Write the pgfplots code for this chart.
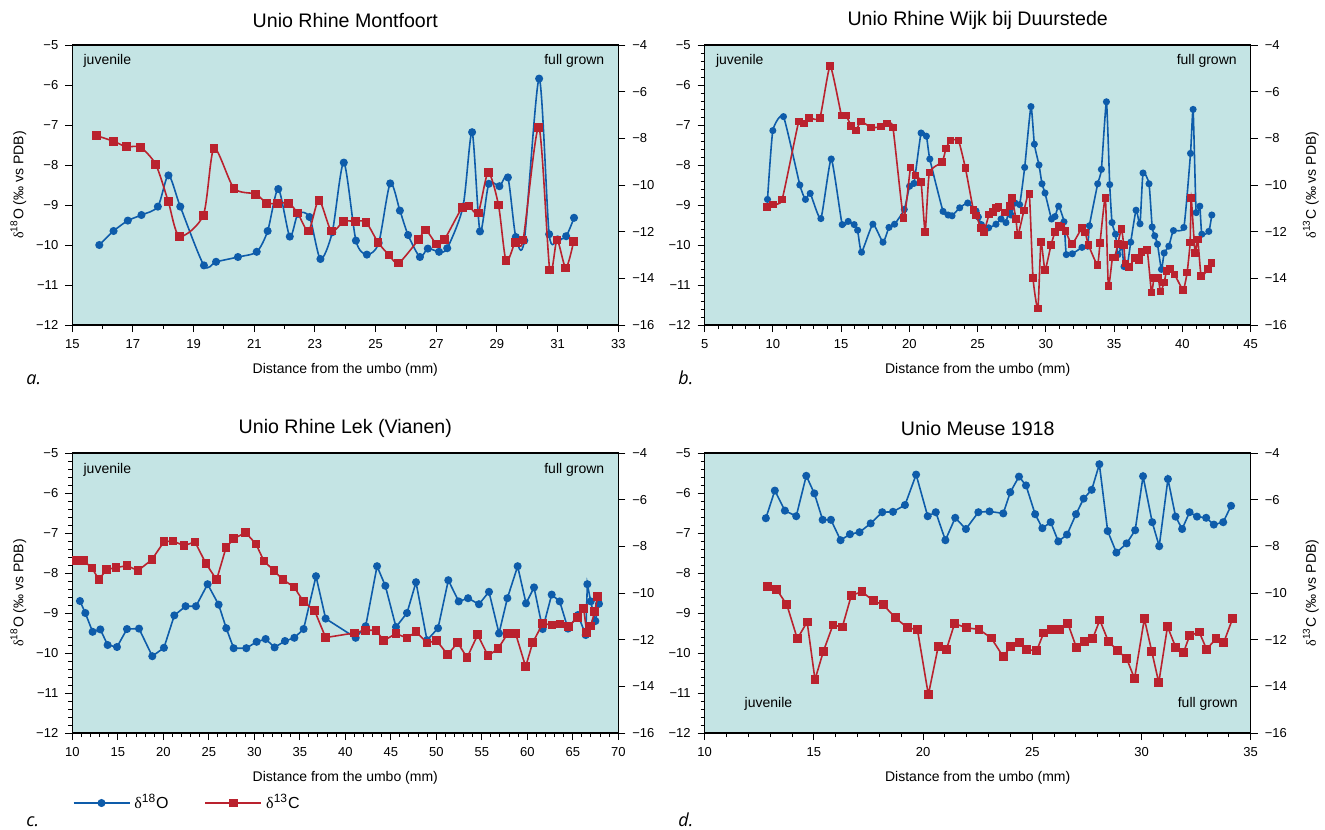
\documentclass[border=0pt]{standalone}
\usepackage{fontspec}
\setmainfont{Liberation Sans}
\newfontfamily\serifgreek{Liberation Serif}
\newfontfamily\panelfont{Open Sans}
\usepackage{pgfplots}
\pgfplotsset{compat=1.18}
\definecolor{bgc}{RGB}{196,228,228}
\definecolor{bluec}{RGB}{14,92,170}
\definecolor{redc}{RGB}{186,34,46}
\newcommand{\dO}{{\serifgreek δ}\textsuperscript{18}O}
\newcommand{\dC}{{\serifgreek δ}\textsuperscript{13}C}
\tikzset{txt/.style={font=\fontsize{7}{8}\selectfont, inner sep=0pt}}
\pgfplotsset{
  base/.style={scale only axis, width=273pt, height=140pt,
    tick align=outside, major tick length=3.5pt, minor tick length=2pt,
    tick style={black, line width=0.5pt},
    axis line style={line width=0.6pt},
    tick label style={font=\fontsize{6.5}{7}\selectfont},
    label style={font=\fontsize{7}{8}\selectfont},
    /pgf/number format/assume math mode=true,
  },
  lefty/.style={base, axis background/.style={fill=bgc},
    xtick pos=lower, ytick pos=left, ymin=-12, ymax=-5, ytick={-12,...,-5},
    yticklabels={−12,−11,−10,−9,−8,−7,−6,−5},
    xlabel={Distance from the umbo (mm)},
    xlabel style={at={(axis description cs:0.5,-0.16)}, anchor=center},
    ylabel style={at={(axis description cs:-0.099,0.5)}, anchor=center},
    title style={font=\fontsize{9.8}{11}\selectfont, at={(axis description cs:0.5,1.046)}, anchor=center},
  },
  righty/.style={base, axis x line=none, axis y line*=right, ytick pos=right,
    ymin=-16, ymax=-4, ytick={-16,-14,...,-4},
    yticklabels={−16,−14,−12,−10,−8,−6,−4},
    ylabel style={at={(axis description cs:1.11,0.5)}, anchor=center},
  },
  bl/.style={color=bluec, line width=0.8pt, mark=*, mark size=1.6pt, mark options={solid, fill=bluec}},
  rd/.style={color=redc, line width=0.8pt, mark=square*, mark size=1.8pt, mark options={solid, fill=redc}},
}
\begin{document}
\begin{tikzpicture}
\path[use as bounding box] (0,0) rectangle (662.5pt,-414.5pt);
% ---------------- panel a
\begin{axis}[lefty, at={(36.15pt,-162.5pt)}, anchor=south west,
  xmin=15, xmax=33, xtick={15,17,...,33}, minor xtick={16,18,...,32},
  title={Unio Rhine Montfoort}, ylabel={\dO\ (‰ vs PDB)}]
\addplot[bl, smooth, tension=0.45] coordinates {
(15.89,-10.00) (16.36,-9.65) (16.83,-9.39) (17.28,-9.25) (17.82,-9.04) (18.17,-8.26)
(18.56,-9.04) (19.34,-10.51) (19.74,-10.42) (20.46,-10.30) (21.08,-10.17) (21.44,-9.65)
(21.79,-8.60) (22.17,-9.79) (22.44,-9.22) (22.82,-9.30) (23.18,-10.35) (23.57,-9.68)
(23.95,-7.94) (24.35,-9.89) (24.71,-10.24) (25.10,-9.95) (25.48,-8.46) (25.80,-9.14)
(26.07,-9.75) (26.46,-10.30) (26.72,-10.09) (27.09,-10.17) (27.36,-10.08) (27.88,-9.04)
(28.18,-7.18) (28.44,-9.66) (28.73,-8.47) (29.08,-8.53) (29.36,-8.31) (29.62,-9.80)
(29.90,-9.89) (30.39,-5.84) (30.72,-9.73) (31.00,-9.86) (31.28,-9.78) (31.54,-9.32)};
\node[txt, anchor=base west] at (rel axis cs:0.02,0.932) {juvenile};
\node[txt, anchor=base east] at (rel axis cs:0.975,0.932) {full grown};
\end{axis}
\begin{axis}[righty, at={(36.15pt,-162.5pt)}, anchor=south west, xmin=15, xmax=33]
\addplot[rd, smooth, tension=0.45] coordinates {
(15.81,-7.89) (16.37,-8.13) (16.78,-8.36) (17.24,-8.38) (17.75,-9.12) (18.16,-10.69)
(18.53,-12.20) (19.32,-11.29) (19.67,-8.44) (20.33,-10.14) (21.05,-10.39) (21.41,-10.78)
(21.77,-10.78) (22.13,-10.78) (22.43,-11.20) (22.79,-11.97) (23.13,-10.65) (23.54,-11.97)
(23.95,-11.56) (24.33,-11.56) (24.68,-11.59) (25.08,-12.46) (25.44,-13.00) (25.76,-13.34)
(26.42,-12.33) (26.65,-11.93) (27.01,-12.53) (27.27,-12.33) (27.86,-10.95) (28.08,-10.90)
(28.38,-11.20) (28.71,-9.47) (29.05,-10.86) (29.30,-13.25) (29.60,-12.46) (29.86,-12.36)
(30.38,-7.53) (30.74,-13.64) (30.98,-12.36) (31.27,-13.56) (31.53,-12.41)};
\end{axis}
% ---------------- panel b
\begin{axis}[lefty, at={(352.35pt,-162.5pt)}, anchor=south west,
  xmin=5, xmax=45, xtick={5,10,...,45}, minor tick num=4,
  title={Unio Rhine Wijk bij Duurstede}]
\addplot[bl, mark size=1.35pt, smooth, tension=0.3] coordinates {
(9.60,-8.86) (9.99,-7.14) (10.77,-6.79) (11.97,-8.50) (12.38,-8.86) (12.73,-8.71)
(13.51,-9.34) (14.27,-7.85) (15.07,-9.49) (15.51,-9.41) (15.95,-9.49) (16.20,-9.63)
(16.49,-10.18) (17.32,-9.48) (18.06,-9.93) (18.50,-9.56) (18.91,-9.48) (19.62,-9.11)
(20.01,-8.53) (20.33,-8.46) (20.85,-7.20) (21.24,-7.28) (21.49,-7.85) (22.46,-9.16)
(22.83,-9.25) (23.12,-9.27) (23.68,-9.07) (24.27,-8.95) (24.88,-9.15) (25.05,-9.30)
(25.27,-9.49) (25.80,-9.57) (26.34,-9.48) (26.71,-9.35) (27.07,-9.44) (27.27,-9.14)
(27.44,-9.25) (27.73,-8.95) (28.07,-8.99) (28.44,-8.06) (28.90,-6.54) (29.15,-7.48)
(29.49,-8.00) (29.71,-8.47) (29.93,-8.70) (30.41,-9.35) (30.66,-9.29) (30.93,-9.03)
(31.32,-9.42) (31.49,-10.24) (31.93,-10.22) (32.64,-10.06) (33.06,-10.03) (33.18,-9.52)
(33.79,-8.47) (34.06,-8.11) (34.43,-6.42) (34.67,-8.49) (34.84,-9.44) (35.09,-9.73)
(35.28,-10.24) (35.55,-10.04) (35.72,-10.54) (35.94,-10.56) (36.21,-9.93) (36.60,-9.13)
(36.89,-9.47) (37.11,-8.20) (37.55,-8.47) (37.78,-9.55) (37.97,-9.77) (38.17,-9.98)
(38.46,-10.61) (38.66,-10.20) (39.00,-10.03) (39.34,-9.64) (40.10,-9.56) (40.59,-7.71)
(40.78,-6.61) (41.00,-9.19) (41.27,-9.03) (41.42,-9.73) (41.93,-9.66) (42.15,-9.25)};
\node[txt, anchor=base west] at (rel axis cs:0.02,0.932) {juvenile};
\node[txt, anchor=base east] at (rel axis cs:0.975,0.932) {full grown};
\end{axis}
\begin{axis}[righty, at={(352.35pt,-162.5pt)}, anchor=south west, xmin=5, xmax=45,
  ylabel={\dC\ (‰ vs PDB)}]
\addplot[rd, mark size=1.5pt, smooth, tension=0.3] coordinates {
(9.57,-10.95) (9.99,-10.83) (10.67,-10.62) (11.89,-7.27) (12.29,-7.36) (12.65,-7.12)
(13.44,-7.12) (14.19,-4.90) (15.02,-7.02) (15.34,-7.02) (15.73,-7.46) (16.08,-7.67)
(16.44,-7.27) (17.20,-7.54) (17.91,-7.50) (18.37,-7.36) (18.79,-7.54) (19.57,-11.42)
(20.08,-9.25) (20.45,-9.59) (20.85,-9.88) (21.15,-12.01) (21.46,-9.47) (22.39,-9.02)
(22.68,-8.43) (23.00,-8.10) (23.59,-8.10) (24.10,-9.28) (24.68,-11.07) (24.88,-11.30)
(25.24,-11.84) (25.46,-12.01) (25.83,-11.27) (26.12,-11.16) (26.34,-10.99) (26.51,-10.95)
(26.98,-11.17) (27.34,-10.90) (27.51,-10.56) (27.80,-11.46) (27.95,-12.14) (28.39,-11.09)
(28.78,-10.39) (29.05,-13.98) (29.41,-15.30) (29.63,-12.44) (29.93,-13.64) (30.37,-12.57)
(30.66,-12.02) (30.92,-11.75) (31.12,-11.80) (31.42,-11.96) (31.91,-12.53) (32.64,-11.84)
(32.88,-12.04) (33.11,-12.56) (33.77,-13.42) (33.96,-12.48) (34.35,-10.56) (34.57,-14.32)
(34.87,-13.11) (35.04,-13.10) (35.26,-12.54) (35.53,-11.89) (35.70,-12.58) (35.82,-13.37)
(36.09,-13.51) (36.53,-13.12) (36.82,-13.22) (36.99,-12.88) (37.41,-12.78) (37.73,-14.60)
(37.92,-13.98) (38.22,-13.98) (38.39,-14.56) (38.66,-14.18) (38.83,-13.69) (39.07,-13.59)
(39.43,-13.84) (40.05,-14.49) (40.34,-13.75) (40.56,-12.47) (40.64,-10.56) (40.92,-12.91)
(41.12,-12.33) (41.37,-13.89) (41.88,-13.59) (42.13,-13.34)};
\end{axis}
% ---------------- panel c
\begin{axis}[lefty, at={(36.15pt,-366.5pt)}, anchor=south west,
  xmin=10, xmax=70, xtick={10,15,...,70}, minor tick num=4,
  title={Unio Rhine Lek (Vianen)}, ylabel={\dO\ (‰ vs PDB)}]
\addplot[bl] coordinates {
(10.84,-8.70) (11.43,-9.00) (12.23,-9.47) (13.08,-9.41) (13.88,-9.80) (14.91,-9.85)
(16.01,-9.40) (17.33,-9.39) (18.79,-10.08) (20.07,-9.87) (21.21,-9.06) (22.45,-8.83)
(23.59,-8.83) (24.87,-8.28) (26.08,-8.79) (26.92,-9.38) (27.73,-9.88) (29.12,-9.88)
(30.26,-9.72) (31.25,-9.65) (32.23,-9.86) (33.37,-9.70) (34.40,-9.62) (35.42,-9.40)
(36.78,-8.08) (37.84,-9.14) (41.14,-9.62) (42.24,-9.33) (43.49,-7.83) (44.40,-8.32)
(45.57,-9.35) (46.78,-9.00) (47.77,-8.23) (48.98,-9.68) (50.19,-9.38) (51.32,-8.18)
(52.46,-8.71) (53.49,-8.63) (54.69,-8.78) (55.79,-8.47) (56.89,-9.51) (57.81,-8.63)
(58.94,-7.83) (59.86,-8.76) (60.74,-8.36) (61.69,-9.40) (62.68,-8.54) (63.56,-8.71)
(64.47,-9.39) (65.57,-9.05) (66.42,-9.55) (66.60,-8.28) (66.97,-8.71) (67.48,-9.20)
(67.88,-8.77)};
\node[txt, anchor=base west] at (rel axis cs:0.02,0.928) {juvenile};
\node[txt, anchor=base east] at (rel axis cs:0.975,0.928) {full grown};
\end{axis}
\begin{axis}[righty, at={(36.15pt,-366.5pt)}, anchor=south west, xmin=10, xmax=70,
  legend style={at={(axis description cs:0.0,-0.25)}, anchor=west, draw=none, fill=none,
    legend columns=2, font=\fontsize{8}{9}\selectfont, inner sep=0pt,
    /tikz/every even column/.append style={column sep=16pt}},
  legend image code/.code={\draw[mark repeat=2, mark phase=2] plot coordinates {(0pt,0pt) (14pt,0pt) (28pt,0pt)};}]
\addlegendimage{bl}
\addlegendentry{\dO}
\addplot[rd] coordinates {
(10.48,-8.61) (11.25,-8.61) (12.16,-8.93) (12.93,-9.43) (13.74,-9.00) (14.80,-8.91)
(16.01,-8.83) (17.22,-9.04) (18.75,-8.57) (20.07,-7.80) (21.06,-7.77) (22.27,-7.97)
(23.48,-7.81) (24.69,-8.74) (25.86,-9.43) (26.89,-8.06) (27.73,-7.67) (29.05,-7.41)
(30.18,-7.90) (31.06,-8.63) (32.16,-9.04) (33.15,-9.43) (34.36,-9.74) (35.42,-10.37)
(36.63,-10.76) (37.84,-11.91) (41.03,-11.71) (42.20,-11.59) (43.38,-11.60) (44.22,-12.04)
(45.57,-11.74) (46.78,-11.93) (47.77,-11.66) (48.98,-12.14) (50.04,-12.04) (51.25,-12.64)
(52.35,-12.13) (53.38,-12.77) (54.55,-11.79) (55.68,-12.69) (56.78,-12.39) (57.84,-11.74)
(58.72,-11.74) (59.82,-13.16) (60.59,-12.13) (61.69,-11.31) (62.72,-11.37) (63.60,-11.33)
(64.51,-11.44) (65.54,-11.04) (66.20,-10.67) (66.53,-11.70) (66.97,-11.41) (67.41,-10.80)
(67.74,-10.16)};
\addlegendentry{\dC}
\end{axis}
% ---------------- panel d
\begin{axis}[lefty, at={(352.35pt,-366.5pt)}, anchor=south west,
  xmin=10, xmax=35, xtick={10,15,...,35}, minor tick num=4,
  title={Unio Meuse 1918}]
\addplot[bl] coordinates {
(12.80,-6.63) (13.21,-5.94) (13.67,-6.44) (14.19,-6.58) (14.65,-5.57) (15.02,-6.01)
(15.40,-6.67) (15.78,-6.67) (16.22,-7.18) (16.65,-7.03) (17.09,-6.98) (17.60,-6.76)
(18.13,-6.48) (18.62,-6.47) (19.17,-6.30) (19.68,-5.54) (20.21,-6.58) (20.58,-6.48)
(21.02,-7.18) (21.47,-6.62) (21.96,-6.90) (22.53,-6.48) (23.04,-6.46) (23.67,-6.51)
(23.99,-5.98) (24.39,-5.59) (24.71,-5.81) (25.13,-6.53) (25.46,-6.88) (25.84,-6.73)
(26.19,-7.21) (26.59,-7.04) (27.00,-6.53) (27.35,-6.14) (27.72,-5.92) (28.07,-5.28)
(28.45,-6.95) (28.85,-7.49) (29.32,-7.26) (29.71,-6.93) (30.07,-5.58) (30.49,-6.73)
(30.81,-7.33) (31.21,-5.65) (31.56,-6.59) (31.86,-6.90) (32.20,-6.48) (32.54,-6.59)
(32.96,-6.62) (33.31,-6.79) (33.74,-6.73) (34.10,-6.32)};
\node[txt, anchor=base west] at (rel axis cs:0.0725,0.09) {juvenile};
\node[txt, anchor=base east] at (rel axis cs:0.977,0.09) {full grown};
\end{axis}
\begin{axis}[righty, at={(352.35pt,-366.5pt)}, anchor=south west, xmin=10, xmax=35,
  ylabel={\dC\ (‰ vs PDB)}]
\addplot[rd] coordinates {
(12.86,-9.73) (13.30,-9.86) (13.76,-10.50) (14.24,-11.96) (14.69,-11.24) (15.05,-13.71)
(15.43,-12.51) (15.87,-11.37) (16.30,-11.46) (16.71,-10.11) (17.20,-9.94) (17.71,-10.33)
(18.17,-10.50) (18.73,-11.06) (19.28,-11.49) (19.74,-11.57) (20.24,-14.36) (20.69,-12.30)
(21.07,-12.41) (21.44,-11.31) (21.97,-11.49) (22.56,-11.56) (23.12,-11.93) (23.67,-12.73)
(24.00,-12.30) (24.40,-12.13) (24.74,-12.43) (25.20,-12.47) (25.52,-11.71) (25.88,-11.57)
(26.27,-11.57) (26.62,-11.29) (27.02,-12.34) (27.40,-12.07) (27.76,-11.96) (28.09,-11.16)
(28.48,-12.07) (28.90,-12.47) (29.32,-12.81) (29.68,-13.67) (30.13,-11.10) (30.47,-12.51)
(30.79,-13.84) (31.19,-11.44) (31.57,-12.34) (31.92,-12.56) (32.20,-11.83) (32.64,-11.67)
(32.98,-12.41) (33.41,-11.96) (33.76,-12.13) (34.17,-11.10)};
\end{axis}
% panel letters
\node[anchor=base west, font=\panelfont\itshape\fontsize{9}{10}\selectfont, inner sep=0pt] at (13pt,-192pt) {a.};
\node[anchor=base west, font=\panelfont\itshape\fontsize{9}{10}\selectfont, inner sep=0pt] at (339pt,-192pt) {b.};
\node[anchor=base west, font=\panelfont\itshape\fontsize{9}{10}\selectfont, inner sep=0pt] at (13pt,-413pt) {c.};
\node[anchor=base west, font=\panelfont\itshape\fontsize{9}{10}\selectfont, inner sep=0pt] at (339pt,-413pt) {d.};
\end{tikzpicture}
\end{document}
